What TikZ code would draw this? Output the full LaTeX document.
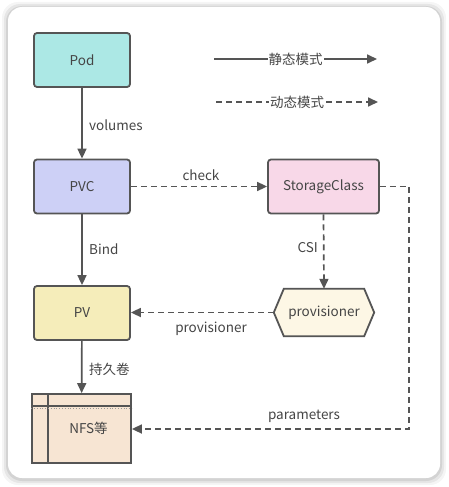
\documentclass[tikz,border=0pt]{standalone}
\usepackage{fontspec}
\setmainfont{Noto Sans CJK SC}
\usetikzlibrary{arrows.meta}
\definecolor{ln}{HTML}{555555}
\definecolor{tx}{HTML}{454545}
\definecolor{podc}{HTML}{ACE8E5}
\definecolor{pvcc}{HTML}{CDD0F6}
\definecolor{scc}{HTML}{F8D8E8}
\definecolor{pvc2}{HTML}{F5EDBA}
\definecolor{hexc}{HTML}{FDF7E5}
\definecolor{nfsc}{HTML}{F7E5D3}
\tikzset{
  fnt/.style={font=\fontsize{13.5}{15}\selectfont},
  box/.style={draw=ln, line width=1.8pt, rounded corners=3pt, minimum width=96pt, minimum height=54pt, inner sep=0pt, text=tx, fnt},
  lbl/.style={text=tx, fnt, inner sep=1pt},
  conn/.style={draw=ln, line width=1.7pt, -{Triangle[length=10pt,width=9pt]}},
  dconn/.style={conn, dash pattern=on 6pt off 4pt},
}
\begin{document}
\begin{tikzpicture}[x=1pt,y=-1pt]
\useasboundingbox (0,0) rectangle (448,487);
\fill[white] (0,0) rectangle (448,487);
% shadow
\foreach \i/\o in {6/0.04,4/0.06,2/0.08}{
  \fill[black,opacity=\o,rounded corners=16pt] (8-\i,7-\i+1) rectangle (440+\i,478+\i+1);
}
\fill[white,rounded corners=14pt] (8,7) rectangle (440,478);

% nodes
\node[box, fill=podc] (pod) at (82,60) {Pod};
\node[box, fill=pvcc] (pvc) at (82,186.5) {PVC};
\node[box, fill=scc, minimum width=111pt] (sc) at (323.5,186.5) {StorageClass};
\node[box, fill=pvc2] (pv) at (82,313) {PV};
\node[minimum width=100pt, minimum height=47pt, inner sep=0pt] (hex) at (324,312.5) {};
\draw[ln, line width=1.8pt, fill=hexc, line join=miter]
  (hex.west) -- ([xshift=10pt]hex.north west) -- ([xshift=-10pt]hex.north east)
  -- (hex.east) -- ([xshift=-10pt]hex.south east) -- ([xshift=10pt]hex.south west) -- cycle;
\node[text=tx, fnt] at (hex) {provisioner};
\node[draw=ln, line width=1.8pt, fill=nfsc, minimum width=99pt, minimum height=69pt, inner sep=0pt, text=tx, fnt] (nfs) at (81.5,428.5) {\raisebox{-12pt}{\hspace{14pt}NFS等}};
\draw[ln, line width=1.8pt] ([xshift=17pt]nfs.north west) -- ([xshift=17pt]nfs.south west);
\draw[ln, line width=1.4pt] ([yshift=-13pt]nfs.north west) -- ([yshift=-13pt]nfs.north east);
\draw[ln!60, line width=0.8pt, dotted] ([yshift=-15pt]nfs.north west) -- ([yshift=-15pt]nfs.north east);

% legend
\coordinate (l1a) at (214,59);
\coordinate (l1b) at (377,59);
\coordinate (l2a) at (216,102);
\coordinate (l2b) at (378,102);
\draw[conn] (l1a) -- node[lbl, fill=white] {静态模式} (l1b);
\draw[dconn] (l2a) -- node[lbl, fill=white] {动态模式} (l2b);

% connectors
\draw[conn] (pod) -- (pvc);
\node[lbl, anchor=west] at (88,125) {volumes};
\draw[conn] (pvc) -- (pv);
\node[lbl, anchor=west] at (88,249) {Bind};
\draw[conn] (pv) -- (nfs);
\node[lbl, anchor=west] at (88,369) {持久卷};
\draw[dconn] (pvc) -- (sc);
\node[lbl] at (201,175) {check};
\draw[dconn] (sc.south) -- (hex.north);
\node[lbl, anchor=east] at (319,248) {CSI};
\draw[dconn] (hex.west) -- (pv.east |- hex.west);
\node[lbl] at (211,329) {provisioner};
\coordinate (c1) at (409,186.5);
\coordinate (c2) at (409,429);
\draw[dconn] (sc.east) -- (c1) -- (c2) -- (nfs.east |- c2);
\node[lbl] at (304,416) {parameters};
\end{tikzpicture}
\end{document}
